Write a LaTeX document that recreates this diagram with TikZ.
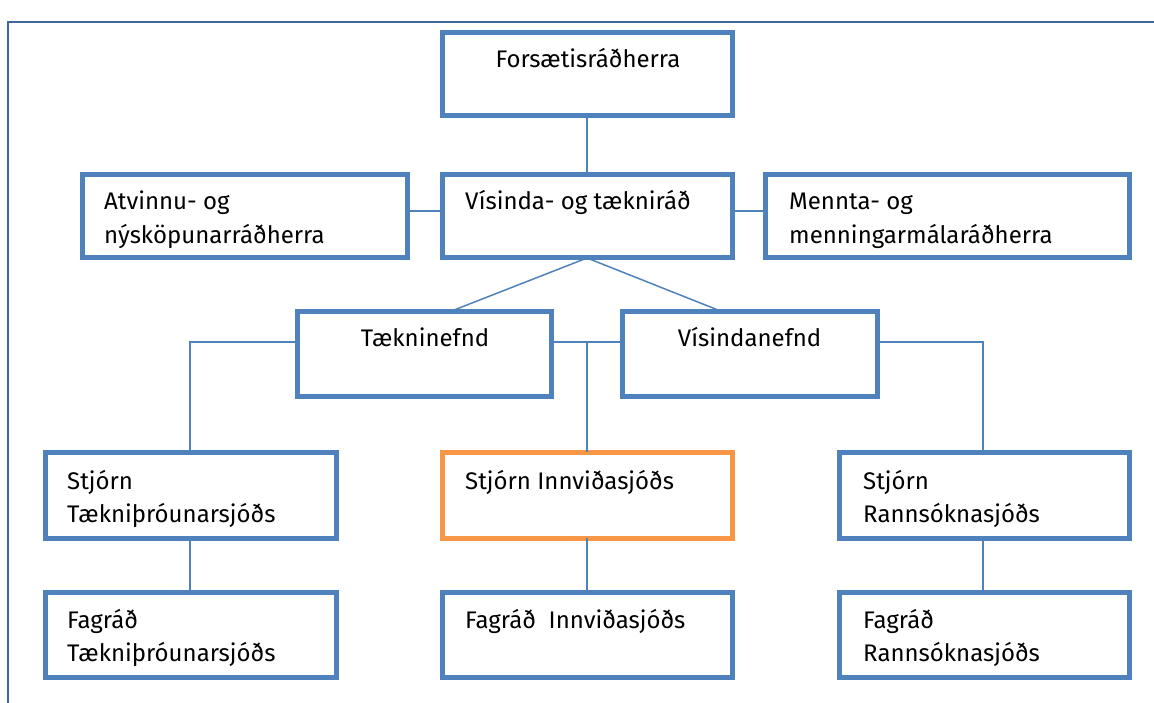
\documentclass[tikz,border=0pt]{standalone}
\usepackage{fontspec}
\setmainfont{Fira Sans}
\definecolor{boxblue}{HTML}{4F81BD}
\definecolor{boxorange}{HTML}{F79646}
\definecolor{frameblue}{HTML}{41669A}
\begin{document}
\begin{tikzpicture}[x=1pt,y=-1pt,
  orgbox/.style={draw=boxblue,line width=5pt,line join=miter,inner sep=0pt,outer sep=0pt,rectangle},
  hibox/.style={orgbox,draw=boxorange},
  link/.style={draw=boxblue,line width=1.5pt},
  txt/.style={anchor=base west,inner sep=0pt,font=\fontsize{24}{33.5}\selectfont},
  ctxt/.style={txt,anchor=base}]
\useasboundingbox (0,0) rectangle (1154,703);
% frame
\coordinate (frBL) at (8,703); \coordinate (frTL) at (8,22); \coordinate (frTR) at (1154,22);
\draw[frameblue,line width=2pt] (frBL) -- (frTL) -- (frTR);
% boxes
\node[orgbox,minimum width=290pt,minimum height=83pt] (F) at (587,74.5) {};
\node[orgbox,minimum width=290pt,minimum height=83pt] (V) at (587,216.5) {};
\node[orgbox,minimum width=325pt,minimum height=83pt] (A) at (244.5,216.5) {};
\node[orgbox,minimum width=364pt,minimum height=83pt] (M) at (947,216.5) {};
\node[orgbox,minimum width=254pt,minimum height=84pt] (T) at (424,354) {};
\node[orgbox,minimum width=255pt,minimum height=84pt] (N) at (749.5,354) {};
\node[orgbox,minimum width=291pt,minimum height=86pt] (ST) at (190.5,495) {};
\node[hibox,minimum width=290pt,minimum height=86pt] (SI) at (587,495) {};
\node[orgbox,minimum width=290pt,minimum height=86pt] (SR) at (984,495) {};
\node[orgbox,minimum width=291pt,minimum height=85pt] (FT) at (190.5,634.5) {};
\node[orgbox,minimum width=290pt,minimum height=85pt] (FI) at (587,634.5) {};
\node[orgbox,minimum width=290pt,minimum height=85pt] (FR) at (984,634.5) {};
% connectors
\draw[link] (F.south) -- (V.north);
\draw[link] ([yshift=5.5pt]A.east) -- ([yshift=5.5pt]V.west);
\draw[link] ([yshift=5.5pt]V.east) -- ([yshift=5.5pt]M.west);
\draw[link] ([xshift=25pt]T.north) -- (V.south) -- ([xshift=-26.5pt]N.north);
\draw[link] ([yshift=12pt]T.east) -- ([yshift=12pt]N.west);
\coordinate (mid) at (587,342);
\draw[link] (mid) -- (SI.north);
\draw[link] ([yshift=12pt]T.west) -| ([xshift=-0.5pt]ST.north);
\draw[link] ([yshift=12pt]N.east) -| ([xshift=-1pt]SR.north);
\draw[link] ([xshift=-0.5pt]ST.south) -- ([xshift=-0.5pt]FT.north);
\draw[link] (SI.south) -- (FI.north);
\draw[link] ([xshift=-1pt]SR.south) -- ([xshift=-1pt]FR.north);
% texts
\node[ctxt] (tF) at (588,68) {Forsætisráðherra};
\node[txt] (tV) at (465,210) {Vísinda- og tækniráð};
\node[txt] (tA) at (104,210) {\begin{tabular}[t]{@{}l@{}}Atvinnu- og\\nýsköpunarráðherra\end{tabular}};
\node[txt] (tM) at (789,210) {\begin{tabular}[t]{@{}l@{}}Mennta- og\\menningarmálaráðherra\end{tabular}};
\node[ctxt] (tT) at (425,347) {Tækninefnd};
\node[ctxt] (tN) at (749.5,347) {Vísindanefnd};
\node[txt] (tST) at (67,489) {\begin{tabular}[t]{@{}l@{}}Stjórn\\Tækniþróunarsjóðs\end{tabular}};
\node[txt] (tSI) at (465,489) {Stjórn Innviðasjóðs};
\node[txt] (tSR) at (863,489) {\begin{tabular}[t]{@{}l@{}}Stjórn\\Rannsóknasjóðs\end{tabular}};
\node[txt] (tFT) at (67,628) {\begin{tabular}[t]{@{}l@{}}Fagráð\\Tækniþróunarsjóðs\end{tabular}};
\node[txt] (tFI) at (465,628) {Fagráð\ \ Innviðasjóðs};
\node[txt] (tFR) at (863,628) {\begin{tabular}[t]{@{}l@{}}Fagráð\\Rannsóknasjóðs\end{tabular}};
\end{tikzpicture}
\end{document}
